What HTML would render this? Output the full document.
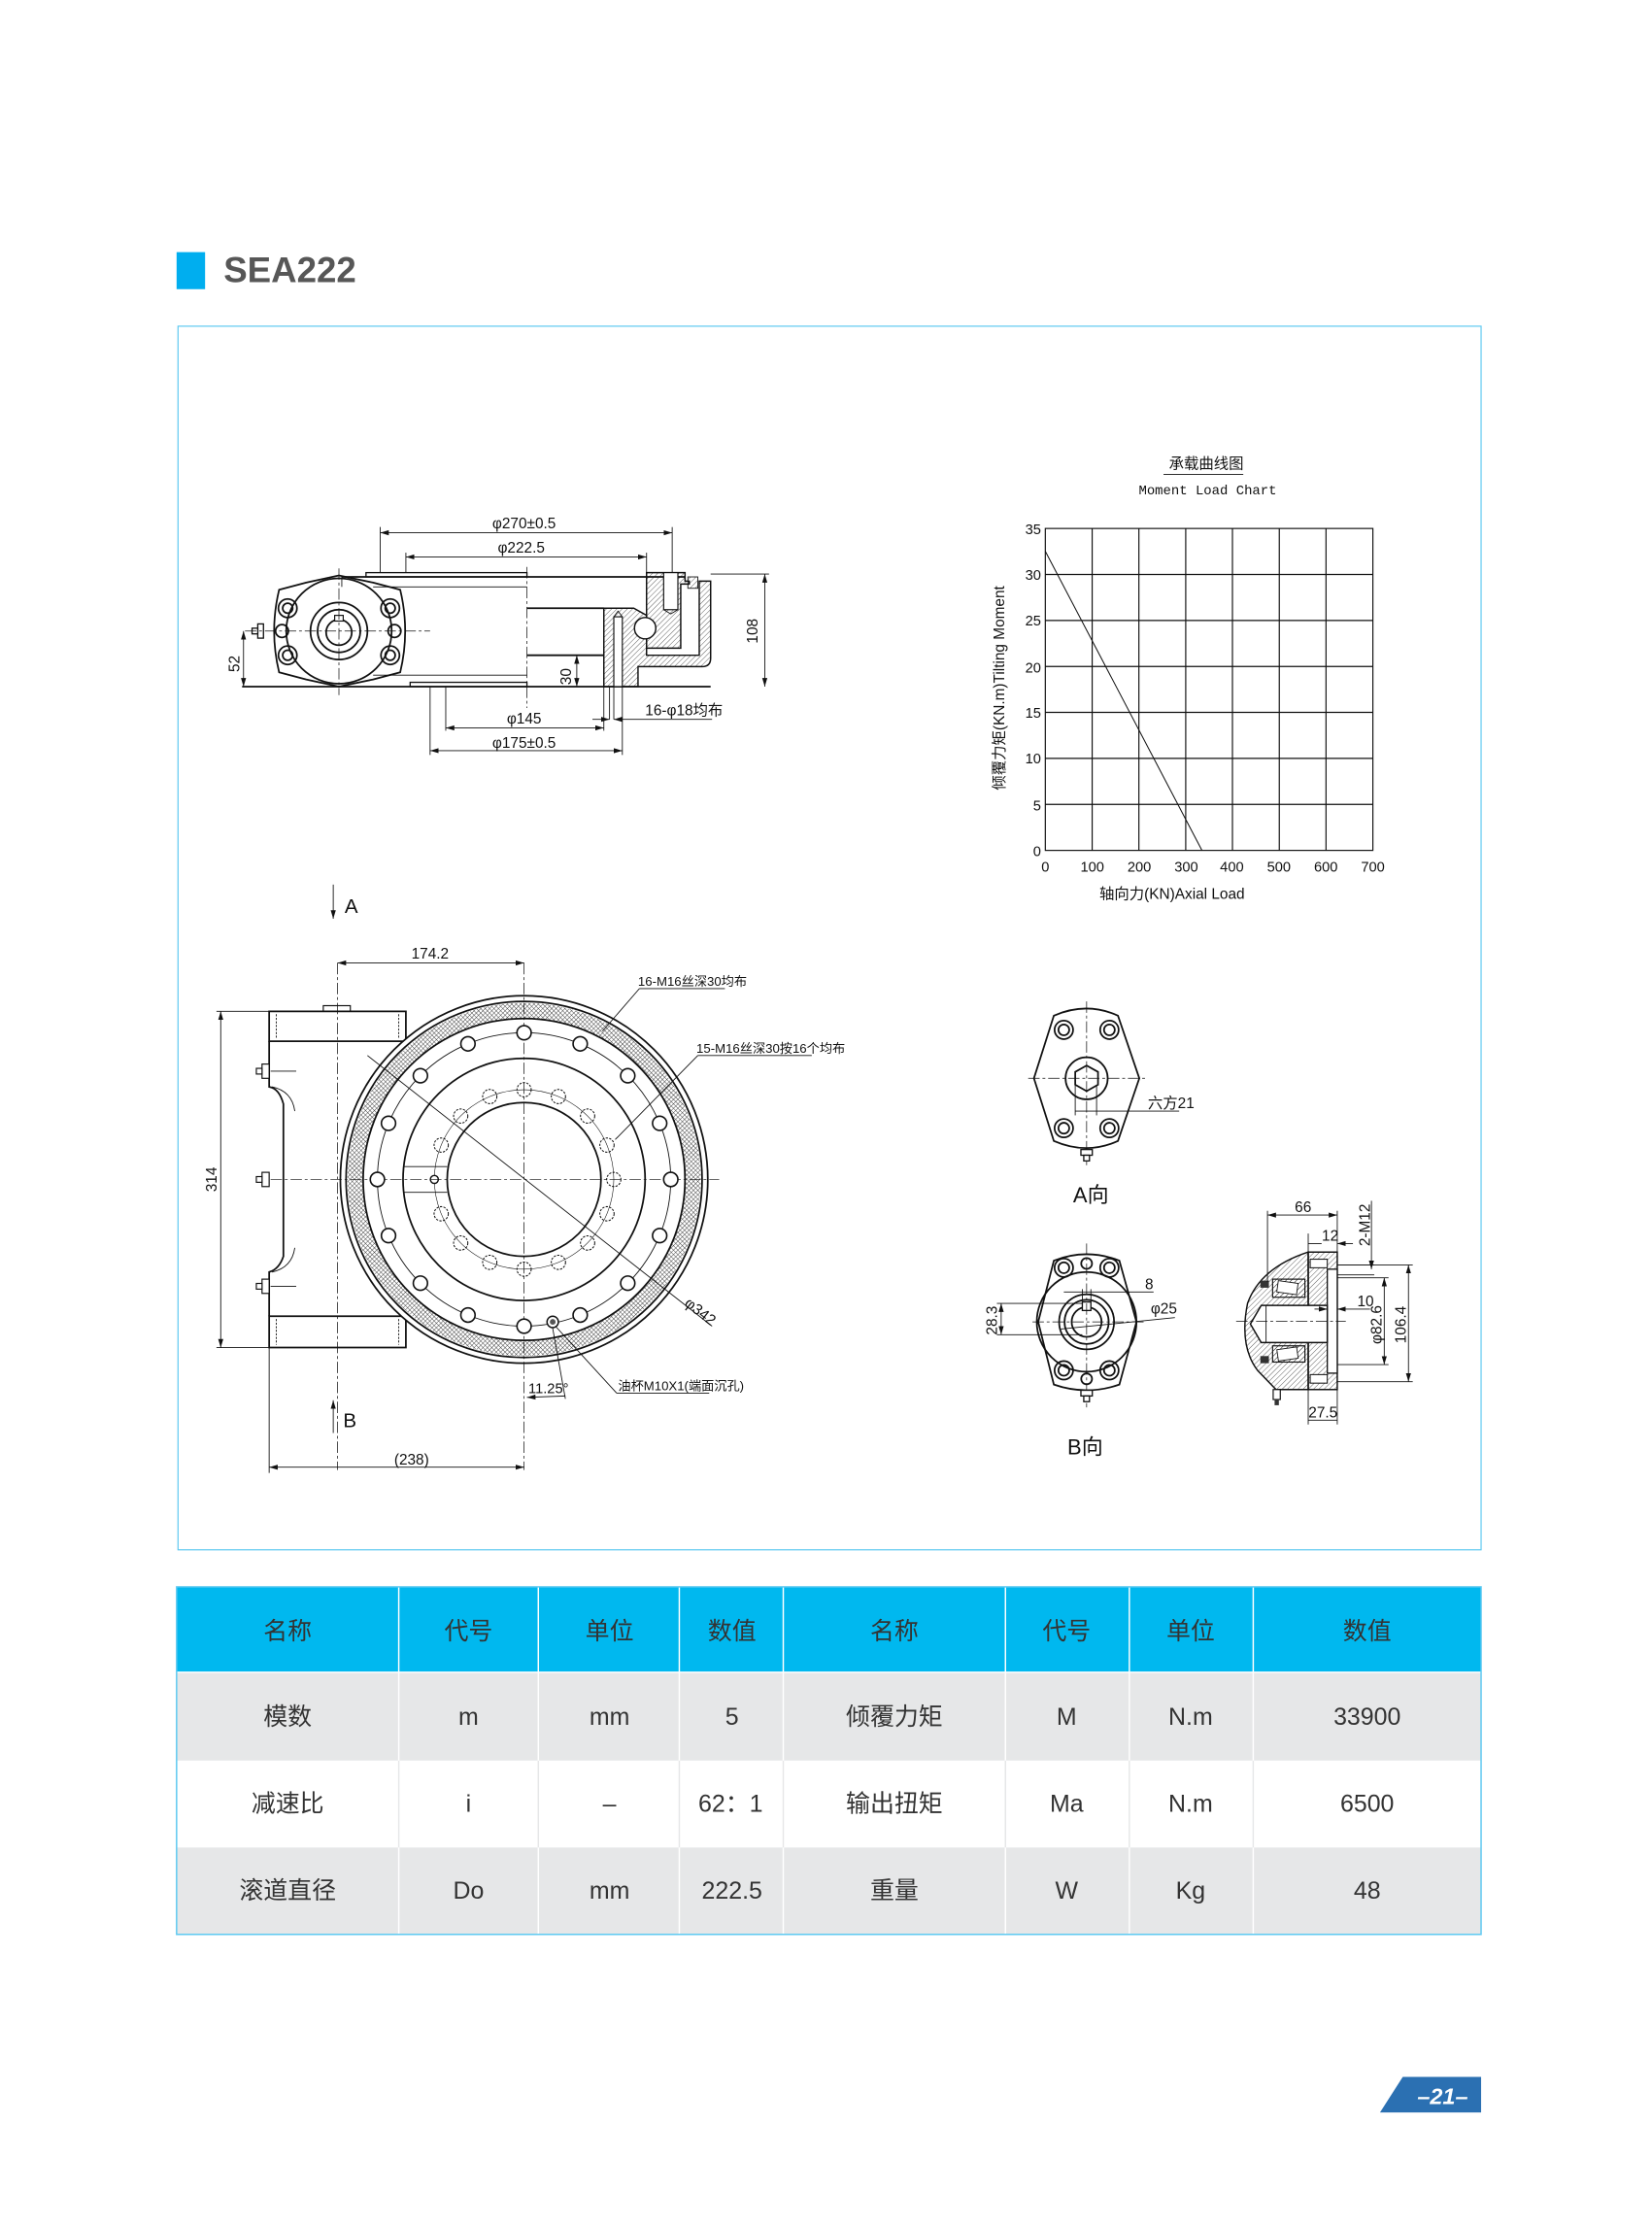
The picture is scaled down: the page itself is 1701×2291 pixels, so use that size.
<!DOCTYPE html>
<html><head><meta charset="utf-8">
<style>
html,body{margin:0;padding:0;background:#fff;}
svg{display:block;}
.t{font-family:"Liberation Sans Narrow","Liberation Sans","Noto Sans CJK SC",sans-serif;font-size:10.5px;fill:#111;}
.c{font-family:"Liberation Sans","Noto Sans CJK SC",sans-serif;font-size:17px;fill:#333;text-anchor:middle;}
.k{stroke:#111;fill:none;stroke-width:1.2;}
.n{stroke:#111;fill:none;stroke-width:0.6;}
.d{stroke:#111;fill:none;stroke-width:0.5;stroke-dasharray:8 2 2 2;}
.dh{stroke:#111;fill:none;stroke-width:0.6;stroke-dasharray:1.5 1;}
</style></head><body>
<svg width="1701" height="2291" viewBox="0 0 1160 1562" preserveAspectRatio="none" xmlns="http://www.w3.org/2000/svg">
<defs>
<pattern id="h" width="2.6" height="2.6" patternUnits="userSpaceOnUse" patternTransform="rotate(45)"><line x1="0" y1="0" x2="0" y2="2.6" stroke="#111" stroke-width="0.45"/></pattern>
<pattern id="x" width="2.2" height="2.2" patternUnits="userSpaceOnUse" patternTransform="rotate(45)"><rect width="2.2" height="2.2" fill="#fff"/><line x1="0" y1="0" x2="0" y2="2.2" stroke="#333" stroke-width="0.6"/><line x1="0" y1="0" x2="2.2" y2="0" stroke="#333" stroke-width="0.6"/></pattern>
<marker id="a" viewBox="0 0 10 10" refX="10" refY="5" markerWidth="6" markerHeight="6" orient="auto-start-reverse" markerUnits="userSpaceOnUse"><path d="M0,2 L10,5 L0,8 Z" fill="#111"/></marker>
</defs>

<!-- title -->
<rect x="124" y="177" width="20" height="26" fill="#00aeef"/>
<text x="157" y="198" style="font-family:'Liberation Sans',sans-serif;font-weight:bold;font-size:25px;fill:#575757">SEA222</text>
<rect x="125" y="229" width="915" height="859" fill="none" stroke="#5bc8f0" stroke-width="0.8"/>

<!-- ========== TOP SIDE VIEW ========== -->
<g>
<!-- body -->
<line class="k" x1="240" y1="405" x2="481" y2="405"/>
<rect x="257" y="402" width="113" height="3" fill="none" stroke="#111" stroke-width="0.9"/>
<line class="k" x1="170" y1="482" x2="499" y2="482"/>
<rect x="288" y="479" width="82" height="3" fill="none" stroke="#111" stroke-width="0.9"/>
<line class="n" x1="240" y1="405" x2="240" y2="412"/>
<line class="k" x1="370" y1="427" x2="424" y2="427"/>
<line class="k" x1="370" y1="460" x2="424" y2="460"/>
<line class="n" x1="262" y1="412" x2="370" y2="412"/>
<line class="n" x1="262" y1="474" x2="370" y2="474"/>
<line class="d" x1="370" y1="398" x2="370" y2="497"/>
<!-- gearbox flange -->
<path class="k" d="M196,414 L215,409 L238,404 L262,409 L281,414 Q288,443 281,472 L262,477 L238,482 L215,477 L196,472 Q189,443 196,414 Z" fill="#fff"/>
<circle class="k" cx="238" cy="443" r="37"/>
<circle class="k" cx="238" cy="443" r="20"/>
<circle class="k" cx="238" cy="443" r="15"/>
<circle class="k" cx="238" cy="444" r="9"/>
<rect x="235" y="432" width="6" height="4" fill="#fff" stroke="#111" stroke-width="0.8"/>
<g class="k">
<circle cx="202" cy="427" r="6.5"/><circle cx="202" cy="427" r="3.5"/>
<circle cx="274" cy="427" r="6.5"/><circle cx="274" cy="427" r="3.5"/>
<circle cx="202" cy="460" r="6.5"/><circle cx="202" cy="460" r="3.5"/>
<circle cx="274" cy="460" r="6.5"/><circle cx="274" cy="460" r="3.5"/>
<circle cx="198" cy="443" r="4.5"/><circle cx="277" cy="443" r="4.5"/>
</g>
<rect x="181" y="438" width="4" height="10" fill="#fff" stroke="#111" stroke-width="0.9"/>
<rect x="177" y="441" width="4" height="4" fill="#fff" stroke="#111" stroke-width="0.9"/>
<line class="d" x1="172" y1="443" x2="302" y2="443"/>
<line class="d" x1="238" y1="399" x2="238" y2="488"/>
<!-- cross section -->
<path d="M424,427 L445,427 L454,432 L454,460 L491,460 L491,408 L499,408 L499,462 Q499,468 493,468 L448,468 L448,482 L424,482 Z" fill="url(#h)" stroke="#111" stroke-width="1"/>
<rect x="431" y="433" width="6" height="49" fill="#fff" stroke="#111" stroke-width="0.8"/>
<path d="M431,433 L434,429 L437,433" class="n"/>
<path d="M454,402 L481,402 L481,408 L484,408 L484,410 L478,410 L478,455 L454,455 Z" fill="url(#h)" stroke="#111" stroke-width="1"/>
<rect x="466" y="402" width="10" height="26" fill="#fff" stroke="#111" stroke-width="0.8"/>
<path d="M466,428 L471,431 L476,428" class="n"/>
<circle cx="453" cy="441" r="7.5" fill="#fff" stroke="#111" stroke-width="1"/>
<rect x="483" y="405" width="7" height="8" fill="url(#h)" stroke="#111" stroke-width="0.6"/>
<line class="n" x1="424" y1="427" x2="424" y2="482"/>
<!-- dims -->
<line class="n" x1="267" y1="370" x2="267" y2="402"/>
<line class="n" x1="472" y1="370" x2="472" y2="402"/>
<line class="n" x1="267" y1="374" x2="472" y2="374" marker-start="url(#a)" marker-end="url(#a)"/>
<text class="t" x="368" y="371" text-anchor="middle">φ270±0.5</text>
<line class="n" x1="285" y1="388" x2="285" y2="402"/>
<line class="n" x1="454" y1="388" x2="454" y2="402"/>
<line class="n" x1="285" y1="391" x2="454" y2="391" marker-start="url(#a)" marker-end="url(#a)"/>
<text class="t" x="366" y="388" text-anchor="middle">φ222.5</text>
<line class="n" x1="499" y1="403" x2="540" y2="403"/>
<line class="n" x1="537" y1="403" x2="537" y2="482" marker-start="url(#a)" marker-end="url(#a)"/>
<text class="t" transform="translate(532,443) rotate(-90)" text-anchor="middle">108</text>
<line class="n" x1="171" y1="443" x2="171" y2="482" marker-start="url(#a)" marker-end="url(#a)"/>
<text class="t" transform="translate(168,466) rotate(-90)" text-anchor="middle">52</text>
<line class="n" x1="405" y1="460" x2="405" y2="482" marker-start="url(#a)" marker-end="url(#a)"/>
<text class="t" transform="translate(401,475) rotate(-90)" text-anchor="middle">30</text>
<line class="n" x1="302" y1="482" x2="302" y2="530"/>
<line class="n" x1="313" y1="482" x2="313" y2="513"/>
<line class="n" x1="424" y1="482" x2="424" y2="513"/>
<line class="n" x1="428" y1="482" x2="428" y2="505"/>
<line class="n" x1="431" y1="482" x2="431" y2="505"/>
<line class="n" x1="437" y1="482" x2="437" y2="530"/>
<line class="n" x1="313" y1="511" x2="424" y2="511" marker-start="url(#a)" marker-end="url(#a)"/>
<text class="t" x="368" y="508" text-anchor="middle">φ145</text>
<line class="n" x1="302" y1="527" x2="437" y2="527" marker-start="url(#a)" marker-end="url(#a)"/>
<text class="t" x="368" y="525" text-anchor="middle">φ175±0.5</text>
<line class="n" x1="416" y1="505" x2="428" y2="505" marker-end="url(#a)"/>
<line class="n" x1="500" y1="505" x2="431" y2="505" marker-end="url(#a)"/>
<text class="t" x="453" y="502">16-φ18均布</text>
</g>

<!-- ========== CHART ========== -->
<g>
<text class="t" x="847" y="329" text-anchor="middle">承载曲线图</text>
<line class="n" x1="817" y1="333" x2="873" y2="333"/>
<text class="t" x="848" y="347" text-anchor="middle" style="font-family:'Liberation Mono',monospace;font-size:9.5px">Moment Load Chart</text>
<g stroke="#111" stroke-width="0.8" fill="none">
<rect x="734" y="371" width="230" height="226"/>
<line x1="766.9" y1="371" x2="766.9" y2="597"/>
<line x1="799.7" y1="371" x2="799.7" y2="597"/>
<line x1="832.6" y1="371" x2="832.6" y2="597"/>
<line x1="865.4" y1="371" x2="865.4" y2="597"/>
<line x1="898.3" y1="371" x2="898.3" y2="597"/>
<line x1="931.1" y1="371" x2="931.1" y2="597"/>
<line x1="734" y1="403.3" x2="964" y2="403.3"/>
<line x1="734" y1="435.6" x2="964" y2="435.6"/>
<line x1="734" y1="467.9" x2="964" y2="467.9"/>
<line x1="734" y1="500.1" x2="964" y2="500.1"/>
<line x1="734" y1="532.4" x2="964" y2="532.4"/>
<line x1="734" y1="564.7" x2="964" y2="564.7"/>
</g>
<line x1="734" y1="387" x2="844" y2="597" stroke="#111" stroke-width="0.7"/>
<g class="t" text-anchor="end" style="font-size:10px">
<text x="731" y="375">35</text><text x="731" y="407">30</text><text x="731" y="439">25</text><text x="731" y="472">20</text><text x="731" y="504">15</text><text x="731" y="536">10</text><text x="731" y="569">5</text><text x="731" y="601">0</text>
</g>
<g class="t" text-anchor="middle" style="font-size:10px">
<text x="734" y="612">0</text><text x="767" y="612">100</text><text x="800" y="612">200</text><text x="833" y="612">300</text><text x="865" y="612">400</text><text x="898" y="612">500</text><text x="931" y="612">600</text><text x="964" y="612">700</text>
</g>
<text class="t" x="823" y="631" text-anchor="middle">轴向力(KN)Axial Load</text>
<text class="t" transform="translate(705,483) rotate(-90)" text-anchor="middle">倾覆力矩(KN.m)Tilting Moment</text>
</g>

<!-- ========== PLAN VIEW ========== -->
<g>
<!-- A / B arrows -->
<line class="n" x1="234" y1="621" x2="234" y2="645" marker-end="url(#a)"/>
<text class="t" x="242" y="641" style="font-size:14px">A</text>
<line class="n" x1="234" y1="1006" x2="234" y2="983" marker-end="url(#a)"/>
<text class="t" x="241" y="1002" style="font-size:14px">B</text>
<!-- housing -->
<path class="k" d="M189,710 L285,710 L285,731 L189,731 Z"/>
<path class="k" d="M189,924 L285,924 L285,946 L189,946 Z"/>
<path class="k" d="M189,731 L189,763 Q196,764 199,775 L199,882 Q196,891 189,893 L189,924"/>
<path class="n" d="M191,763 Q205,766 207,780"/><path class="n" d="M191,893 Q205,890 207,876"/>
<rect x="227" y="706" width="19" height="4" fill="none" stroke="#111" stroke-width="0.8"/>
<line class="dh" x1="194" y1="712" x2="194" y2="729"/><line class="dh" x1="280" y1="712" x2="280" y2="729"/>
<line class="dh" x1="194" y1="926" x2="194" y2="944"/><line class="dh" x1="280" y1="926" x2="280" y2="944"/>
<g fill="#fff" stroke="#111" stroke-width="0.8">
<rect x="184" y="747" width="5" height="10"/><rect x="180" y="750" width="4" height="4"/>
<rect x="184" y="823" width="5" height="10"/><rect x="180" y="826" width="4" height="4"/>
<rect x="184" y="898" width="5" height="10"/><rect x="180" y="901" width="4" height="4"/>
</g>
<line class="n" x1="190" y1="752" x2="208" y2="752"/><line class="n" x1="190" y1="903" x2="208" y2="903"/>
<line class="d" x1="237" y1="676" x2="237" y2="1032"/>
<!-- rings -->
<circle cx="368" cy="828" r="129" fill="#fff" stroke="#111" stroke-width="1.2"/>
<circle class="k" cx="368" cy="828" r="125"/>
<circle cx="368" cy="828" r="118.5" fill="none" stroke="url(#x)" stroke-width="11"/>
<circle class="k" cx="368" cy="828" r="113"/>
<circle class="n" cx="368" cy="828" r="103"/>
<circle class="k" cx="368" cy="828" r="85"/>
<circle cx="368" cy="828" r="63" fill="none" stroke="#111" stroke-width="0.4"/>
<circle class="k" cx="368" cy="828" r="54"/>
<line class="n" x1="284" y1="819" x2="314" y2="819"/><line class="n" x1="284" y1="837" x2="314" y2="837"/>
<circle cx="305" cy="828" r="2.8" fill="#fff" stroke="#111" stroke-width="1"/>
<line class="d" x1="190" y1="828" x2="505" y2="828"/>
<line class="d" x1="368" y1="676" x2="368" y2="1032"/>
<!-- outer holes -->
<g fill="#fff" stroke="#111" stroke-width="1.1">
<circle cx="368" cy="725" r="5"/><circle cx="407.4" cy="732.8" r="5"/><circle cx="440.8" cy="755.2" r="5"/><circle cx="463.2" cy="788.6" r="5"/>
<circle cx="471" cy="828" r="5"/><circle cx="463.2" cy="867.4" r="5"/><circle cx="440.8" cy="900.8" r="5"/><circle cx="407.4" cy="923.2" r="5"/>
<circle cx="368" cy="931" r="5"/><circle cx="328.6" cy="923.2" r="5"/><circle cx="295.2" cy="900.8" r="5"/><circle cx="272.8" cy="867.4" r="5"/>
<circle cx="265" cy="828" r="5"/><circle cx="272.8" cy="788.6" r="5"/><circle cx="295.2" cy="755.2" r="5"/><circle cx="328.6" cy="732.8" r="5"/>
</g>
<circle cx="388.1" cy="928" r="4" fill="#fff" stroke="#111" stroke-width="1"/><circle cx="388.1" cy="928" r="2" fill="#555"/>
<!-- inner dashed holes -->
<g fill="none" stroke="#111" stroke-width="0.7" stroke-dasharray="1.6 0.9">
<circle cx="368" cy="765" r="5"/><circle cx="392.1" cy="769.8" r="5"/><circle cx="412.6" cy="783.5" r="5"/><circle cx="426.2" cy="803.9" r="5"/>
<circle cx="431" cy="828" r="5"/><circle cx="426.2" cy="852.1" r="5"/><circle cx="412.6" cy="872.6" r="5"/><circle cx="392.1" cy="886.2" r="5"/>
<circle cx="368" cy="891" r="5"/><circle cx="343.9" cy="886.2" r="5"/><circle cx="323.5" cy="872.6" r="5"/><circle cx="309.8" cy="852.1" r="5"/>
<circle cx="309.8" cy="803.9" r="5"/><circle cx="323.5" cy="783.5" r="5"/><circle cx="343.9" cy="769.8" r="5"/>
</g>
<!-- diagonal & leaders -->
<line class="n" x1="258" y1="741" x2="500" y2="931"/>
<text class="t" transform="translate(480,916) rotate(38)">φ342</text>
<line class="n" x1="423" y1="724" x2="449" y2="694"/><line class="n" x1="449" y1="694" x2="509" y2="694"/>
<text class="t" x="448" y="692" style="font-size:9px">16-M16丝深30均布</text>
<line class="n" x1="432" y1="800" x2="490" y2="741"/><line class="n" x1="490" y1="741" x2="570" y2="741"/>
<text class="t" x="489" y="739" style="font-size:9px">15-M16丝深30按16个均布</text>
<line class="n" x1="390" y1="931" x2="433" y2="978"/><line class="n" x1="433" y1="978" x2="498" y2="978"/>
<text class="t" x="434" y="976" style="font-size:9px">油杯M10X1(端面沉孔)</text>
<line class="n" x1="388" y1="932" x2="397" y2="982"/>
<line class="n" x1="370" y1="981" x2="397" y2="980" marker-start="url(#a)"/>
<text class="t" x="371" y="978" style="font-size:10px">11.25°</text>
<!-- dims -->
<line class="n" x1="237" y1="676" x2="368" y2="676" marker-start="url(#a)" marker-end="url(#a)"/>
<text class="t" x="302" y="673" text-anchor="middle">174.2</text>
<line class="n" x1="152" y1="710" x2="189" y2="710"/><line class="n" x1="152" y1="946" x2="189" y2="946"/>
<line class="n" x1="155" y1="710" x2="155" y2="946" marker-start="url(#a)" marker-end="url(#a)"/>
<text class="t" transform="translate(152,828) rotate(-90)" text-anchor="middle">314</text>
<line class="n" x1="189" y1="946" x2="189" y2="1034"/>
<line class="n" x1="189" y1="1030" x2="368" y2="1030" marker-start="url(#a)" marker-end="url(#a)"/>
<text class="t" x="289" y="1028" text-anchor="middle">(238)</text>
</g>

<!-- ========== A VIEW ========== -->
<g>
<path class="k" d="M740,713 Q763,703 785,713 L800,757 L785,801 Q763,811 740,801 L726,757 Z" fill="#fff"/>
<g class="k">
<circle cx="747" cy="723" r="6.5"/><circle cx="747" cy="723" r="3.8"/>
<circle cx="779" cy="723" r="6.5"/><circle cx="779" cy="723" r="3.8"/>
<circle cx="747" cy="792" r="6.5"/><circle cx="747" cy="792" r="3.8"/>
<circle cx="779" cy="792" r="6.5"/><circle cx="779" cy="792" r="3.8"/>
<circle cx="763" cy="757" r="14.8"/>
<path d="M763,748 L771,752.5 L771,761.5 L763,766 L755,761.5 L755,752.5 Z"/>
</g>
<line class="d" x1="722" y1="757" x2="805" y2="757"/>
<line class="d" x1="763" y1="703" x2="763" y2="818"/>
<rect x="759" y="807" width="8" height="4" fill="#fff" stroke="#111" stroke-width="0.9"/>
<rect x="761" y="811" width="4" height="4" fill="#fff" stroke="#111" stroke-width="0.9"/>
<line class="n" x1="755" y1="762" x2="755" y2="783"/><line class="n" x1="770" y1="762" x2="770" y2="783"/>
<line class="n" x1="755" y1="780" x2="828" y2="780"/>
<text class="t" x="806" y="778">六方21</text>
<text class="t" x="766" y="844" text-anchor="middle" style="font-size:15px">A向</text>
</g>

<!-- ========== B VIEW ========== -->
<g>
<path class="k" d="M740,885 Q763,876 786,885 L798,928 L786,972 Q763,980 740,972 L729,928 Z" fill="#fff"/>
<g class="k">
<circle cx="763" cy="928" r="35"/>
<circle cx="763" cy="928" r="19.3"/><circle cx="763" cy="928" r="15.5"/><circle cx="763" cy="928" r="10.5"/>
<circle cx="747" cy="890" r="6.5"/><circle cx="747" cy="890" r="3.8"/>
<circle cx="779" cy="890" r="6.5"/><circle cx="779" cy="890" r="3.8"/>
<circle cx="747" cy="962" r="6.5"/><circle cx="747" cy="962" r="3.8"/>
<circle cx="779" cy="962" r="6.5"/><circle cx="779" cy="962" r="3.8"/>
<circle cx="763" cy="887" r="3.8"/><circle cx="763" cy="968" r="3.8"/>
</g>
<rect x="760" y="914" width="6" height="6" fill="#fff" stroke="#111" stroke-width="0.9"/>
<line class="d" x1="725" y1="928" x2="803" y2="928"/>
<line class="d" x1="763" y1="873" x2="763" y2="988"/>
<rect x="759" y="976" width="8" height="4" fill="#fff" stroke="#111" stroke-width="0.9"/>
<rect x="761" y="980" width="4" height="4" fill="#fff" stroke="#111" stroke-width="0.9"/>
<line class="n" x1="760" y1="905" x2="760" y2="914"/><line class="n" x1="766" y1="905" x2="766" y2="914"/>
<line class="n" x1="747" y1="907" x2="810" y2="907"/>
<text class="t" x="804" y="905">8</text>
<line class="n" x1="745" y1="933" x2="825" y2="925"/>
<text class="t" x="808" y="922">φ25</text>
<line class="n" x1="700" y1="915" x2="760" y2="915"/><line class="n" x1="700" y1="937" x2="760" y2="937"/>
<line class="n" x1="703" y1="915" x2="703" y2="937" marker-start="url(#a)" marker-end="url(#a)"/>
<text class="t" transform="translate(700,927) rotate(-90)" text-anchor="middle">28.3</text>
<text class="t" x="762" y="1021" text-anchor="middle" style="font-size:15px">B向</text>
</g>

<!-- ========== SECTION VIEW ========== -->
<g>
<path d="M918.6,879 Q885,890 876,915 Q870,945 883,962 L896,975.5 L918.6,975.5 Z" fill="url(#h)" stroke="#111" stroke-width="1"/>
<rect x="918.6" y="879" width="20.4" height="96.5" fill="url(#h)" stroke="#111" stroke-width="1"/>
<rect x="932" y="891" width="7" height="73" fill="#fff" stroke="#111" stroke-width="0.9"/>
<rect x="920" y="884" width="12" height="6" fill="#fff" stroke="#111" stroke-width="0.7"/>
<rect x="920" y="965" width="12" height="6" fill="#fff" stroke="#111" stroke-width="0.7"/>
<path d="M885.6,916.4 L932,916.4 L932,942.5 L885.6,942.5 L878,929.5 Z" fill="#fff" stroke="#111" stroke-width="1"/>
<line class="n" x1="889" y1="916.4" x2="889" y2="942.5"/>
<rect x="893.6" y="898" width="22.7" height="12.7" fill="url(#h)" stroke="#111" stroke-width="0.8"/>
<rect x="897" y="900" width="14" height="8" fill="#fff" stroke="#111" stroke-width="0.6" transform="rotate(8 904 904)"/>
<rect x="893.6" y="944.8" width="22.7" height="11.4" fill="url(#h)" stroke="#111" stroke-width="0.8"/>
<rect x="897" y="946.5" width="14" height="8" fill="#fff" stroke="#111" stroke-width="0.6" transform="rotate(-8 904 950)"/>
<rect x="885" y="899" width="6" height="5" fill="#333"/><rect x="885" y="952" width="6" height="5" fill="#333"/>
<rect x="894" y="975.5" width="5" height="7" fill="#fff" stroke="#111" stroke-width="0.8"/>
<rect x="895" y="982.5" width="3" height="4" fill="#333"/>
<line class="d" x1="868" y1="927.7" x2="945" y2="927.7"/>
<line class="n" x1="890" y1="850" x2="890" y2="900"/>
<line class="n" x1="939" y1="850" x2="939" y2="879"/>
<line class="n" x1="890" y1="853" x2="939" y2="853" marker-start="url(#a)" marker-end="url(#a)"/>
<text class="t" x="915" y="851" text-anchor="middle">66</text>
<line class="n" x1="918.6" y1="866" x2="918.6" y2="879"/>
<line class="n" x1="918.6" y1="873" x2="928" y2="873"/>
<line class="n" x1="950" y1="873" x2="939" y2="873" marker-end="url(#a)"/>
<text class="t" x="934" y="871" text-anchor="middle">12</text>
<line class="n" x1="963" y1="843" x2="963" y2="891" marker-end="url(#a)"/>
<text class="t" transform="translate(962,860) rotate(-90)" text-anchor="middle">2-M12</text>
<line class="n" x1="939" y1="888" x2="965" y2="888"/><line class="n" x1="939" y1="895" x2="965" y2="895"/>
<line class="n" x1="939" y1="897" x2="975" y2="897"/><line class="n" x1="939" y1="958" x2="975" y2="958"/>
<line class="n" x1="972" y1="897" x2="972" y2="958" marker-start="url(#a)" marker-end="url(#a)"/>
<text class="t" transform="translate(970,930) rotate(-90)" text-anchor="middle">φ82.6</text>
<line class="n" x1="939" y1="888" x2="992" y2="888"/><line class="n" x1="939" y1="970" x2="992" y2="970"/>
<line class="n" x1="989" y1="888" x2="989" y2="970" marker-start="url(#a)" marker-end="url(#a)"/>
<text class="t" transform="translate(987,930) rotate(-90)" text-anchor="middle">106.4</text>
<line class="n" x1="923" y1="919" x2="932" y2="919" marker-end="url(#a)"/>
<line class="n" x1="962" y1="919" x2="939" y2="919" marker-end="url(#a)"/>
<text class="t" x="953" y="917">10</text>
<line class="n" x1="918.6" y1="975.5" x2="918.6" y2="1000"/><line class="n" x1="939" y1="975.5" x2="939" y2="1000"/>
<line class="n" x1="918.6" y1="997" x2="939" y2="997"/>
<text class="t" x="929" y="995" text-anchor="middle">27.5</text>
</g>

<!-- ========== TABLE ========== -->
<g>
<rect x="124" y="1114" width="916" height="60" fill="#00b8ef"/>
<rect x="124" y="1174" width="916" height="62" fill="#e6e7e8"/>
<rect x="124" y="1236" width="916" height="61" fill="#ffffff"/>
<rect x="124" y="1297" width="916" height="61" fill="#e6e7e8"/>
<g stroke="#fff" stroke-width="1">
<line x1="280" y1="1114" x2="280" y2="1358"/><line x1="378" y1="1114" x2="378" y2="1358"/><line x1="477" y1="1114" x2="477" y2="1358"/><line x1="550" y1="1114" x2="550" y2="1358"/>
<line x1="706" y1="1114" x2="706" y2="1358"/><line x1="793" y1="1114" x2="793" y2="1358"/><line x1="880" y1="1114" x2="880" y2="1358"/>
<line x1="124" y1="1174" x2="1040" y2="1174"/>
</g>
<g stroke="#e6e7e8" stroke-width="1">
<line x1="280" y1="1236" x2="280" y2="1297"/><line x1="378" y1="1236" x2="378" y2="1297"/><line x1="477" y1="1236" x2="477" y2="1297"/><line x1="550" y1="1236" x2="550" y2="1297"/>
<line x1="706" y1="1236" x2="706" y2="1297"/><line x1="793" y1="1236" x2="793" y2="1297"/><line x1="880" y1="1236" x2="880" y2="1297"/>
</g>
<rect x="124" y="1114" width="916" height="244" fill="none" stroke="#5bc8f0" stroke-width="1"/>
<g class="c">
<text x="202" y="1151">名称</text><text x="329" y="1151">代号</text><text x="428" y="1151">单位</text><text x="514" y="1151">数值</text>
<text x="628" y="1151">名称</text><text x="749" y="1151">代号</text><text x="836" y="1151">单位</text><text x="960" y="1151">数值</text>
<text x="202" y="1211">模数</text><text x="329" y="1211">m</text><text x="428" y="1211">mm</text><text x="514" y="1211">5</text>
<text x="628" y="1211">倾覆力矩</text><text x="749" y="1211">M</text><text x="836" y="1211">N.m</text><text x="960" y="1211">33900</text>
<text x="202" y="1272">减速比</text><text x="329" y="1272">i</text><text x="428" y="1272">–</text><text x="513" y="1272">62：1</text>
<text x="628" y="1272">输出扭矩</text><text x="749" y="1272">Ma</text><text x="836" y="1272">N.m</text><text x="960" y="1272">6500</text>
<text x="202" y="1333">滚道直径</text><text x="329" y="1333">Do</text><text x="428" y="1333">mm</text><text x="514" y="1333">222.5</text>
<text x="628" y="1333">重量</text><text x="749" y="1333">W</text><text x="836" y="1333">Kg</text><text x="960" y="1333">48</text>
</g>
</g>

<!-- page number -->
<path d="M985,1458 L1040,1458 L1040,1483 L969,1483 Z" fill="#2b70b2"/>
<text x="1013" y="1477" text-anchor="middle" style="font-family:'Liberation Sans',sans-serif;font-weight:bold;font-style:italic;font-size:16px;fill:#fff">–21–</text>
</svg>
</body></html>
